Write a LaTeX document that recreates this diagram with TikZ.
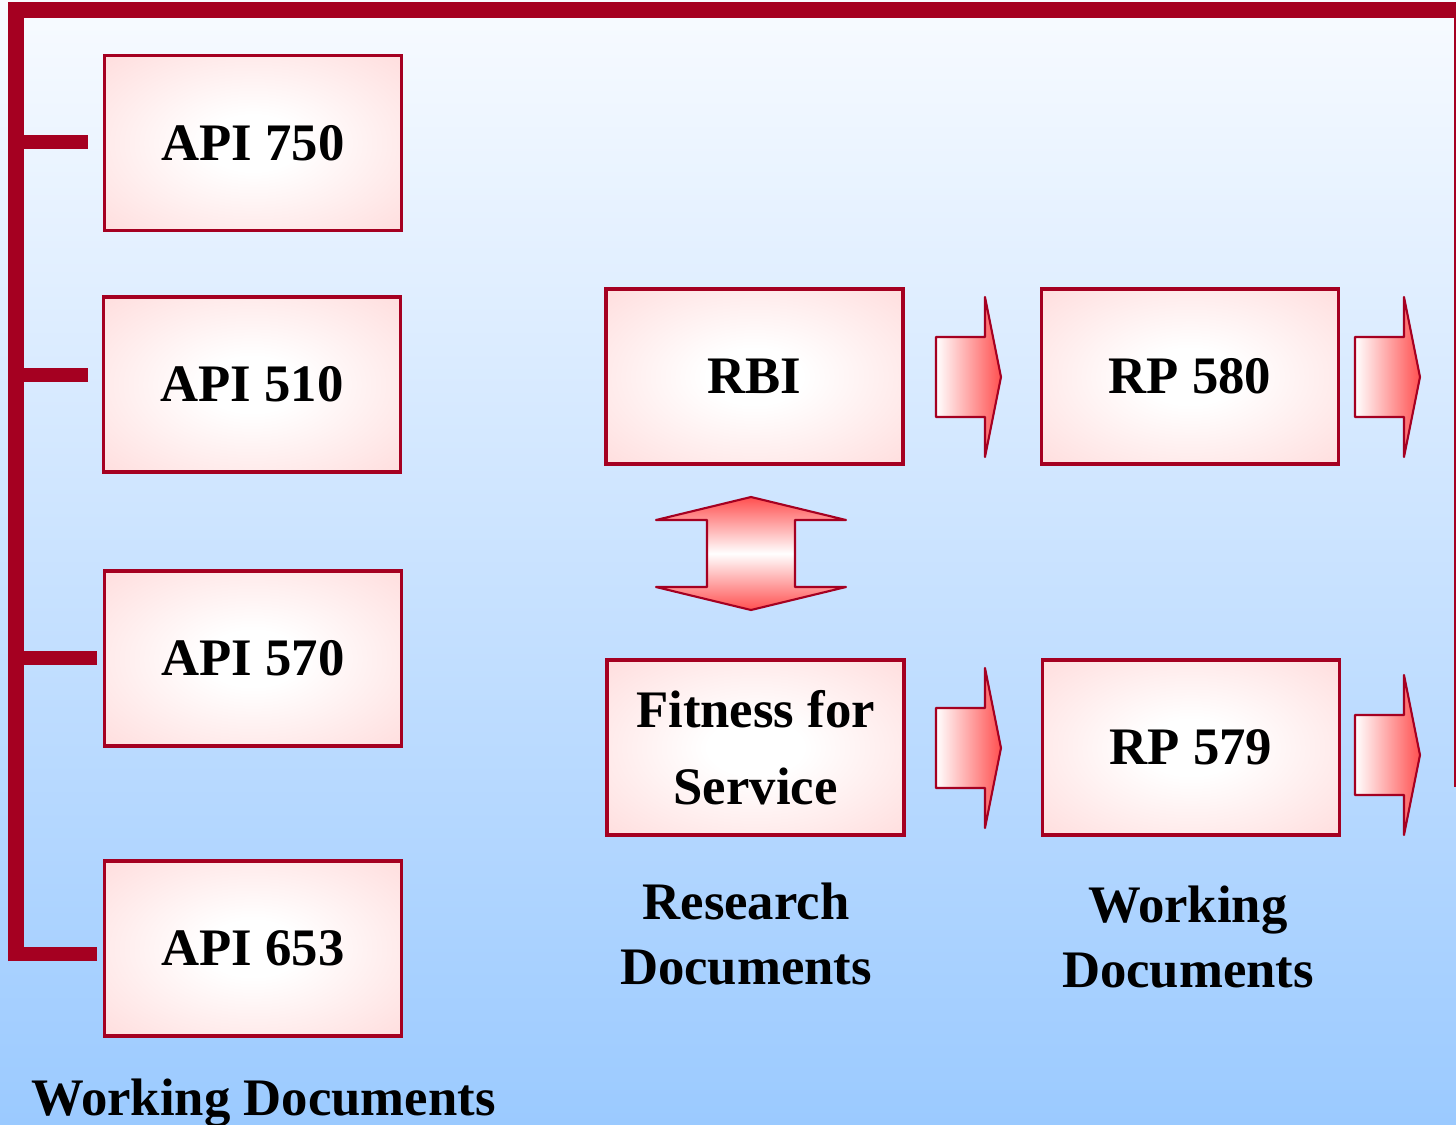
\documentclass[tikz,border=0pt]{standalone}
\usepackage{fontspec}
\setmainfont{Liberation Serif}

\definecolor{frame}{RGB}{165,0,33}
\definecolor{boxpink}{RGB}{255,214,214}
\definecolor{arrowred}{RGB}{255,80,80}
\definecolor{bgtop}{RGB}{248,251,255}
\definecolor{bgbot}{RGB}{155,202,255}

% white centre fading to pink at the edges of the document boxes
\pgfdeclareradialshading{boxglow}{\pgfpoint{0bp}{0bp}}{color(0bp)=(white); color(8bp)=(white); color(42bp)=(boxpink); color(72bp)=(boxpink)}

\begin{document}
\begin{tikzpicture}[x=0.1mm, y=-0.1mm,
  docbox/.style={draw=frame, line width=0.9pt, shade, shading=boxglow, minimum width=29.7mm, minimum height=17.5mm, inner sep=0pt, align=center, font=\fontsize{15}{21.9}\selectfont\bfseries},
  caption/.style={inner sep=0pt, align=center, font=\fontsize{15}{18.5}\selectfont\bfseries},
  rail/.style={draw=frame, line width=1.6mm},
  tick/.style={draw=frame, line width=1.4mm},
  blockarrow/.style={draw=frame, line width=0.6pt, line join=round, left color=white, right color=arrowred},
  updown/.style={draw=frame, line width=0.6pt, line join=round, top color=arrowred, bottom color=arrowred, middle color=white}
]
\useasboundingbox (0,0) rectangle (1456,1124);
\clip (0,0) rectangle (1456,1124);
\shade[top color=bgtop, bottom color=bgbot] (0,0) rectangle (1456,1124);

% working documents on the left
\node[docbox] (api750) at (253,143) {API 750};
\node[docbox] (api510) at (252,384.5) {API 510};
\node[docbox] (api570) at (253,658.5) {API 570};
\node[docbox] (api653) at (253,948.5) {API 653};

% research and working documents
\node[docbox] (rbi) at (754.5,376.5) {RBI};
\node[docbox] (rp580) at (1190,376.5) {RP 580};
\node[docbox] (ffs) at (755.5,747.5) {Fitness for\\Service};
\node[docbox] (rp579) at (1191,747.5) {RP 579};

% frame rail and its ticks
\coordinate (railend) at (16,961);
\draw[rail] (railend) -- (16,10) -- (1462,10) -- (1462,787);
\foreach \n/\y/\gap in {api750/142/1.5mm, api510/375/1.4mm, api570/658/0.6mm, api653/954/0.6mm}
  \draw[tick] (16,\y) -- ([xshift=-\gap]\n.west |- 0,\y);

% block arrows
\foreach \ax/\ay in {936/377, 1355/377, 936/748, 1355/755}
  \draw[blockarrow] (\ax,\ay-40) -- (\ax+49,\ay-40) -- (\ax+49,\ay-80) -- (\ax+65,\ay)
    -- (\ax+49,\ay+80) -- (\ax+49,\ay+40) -- (\ax,\ay+40) -- cycle;
\draw[updown] (751,497) -- (846,520) -- (795,520) -- (795,587) -- (846,587) -- (751,610)
  -- (656,587) -- (707,587) -- (707,520) -- (656,520) -- cycle;

% captions
\node[caption] (research) at (746,934.5) {Research\\Documents};
\node[caption] (working) at (1188,937) {Working\\Documents};
\node[caption, anchor=base] (workleft) at (263.5,1115) {Working Documents};
\end{tikzpicture}
\end{document}
